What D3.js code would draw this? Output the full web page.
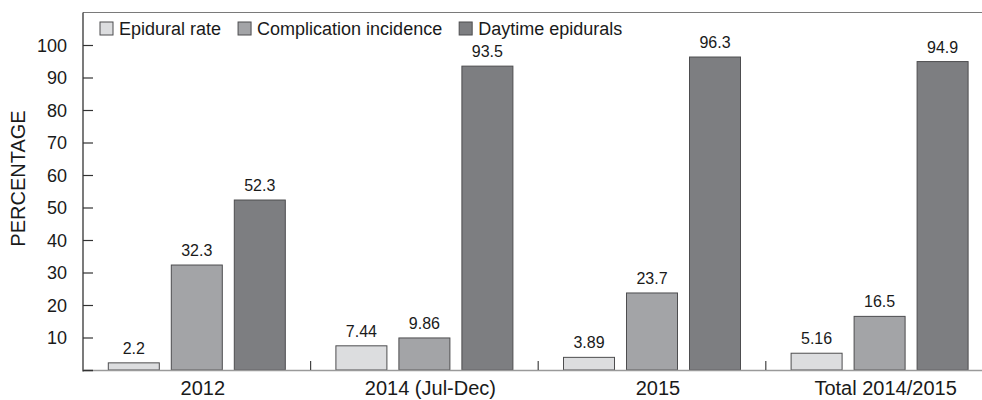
<!DOCTYPE html>
<html lang="en">

<head>
  <meta charset="UTF-8">
  <title>Epidural chart</title>
  <style>
    body {
      margin: 0;
      background: #fff;
      font-family: "Liberation Sans", Arial, sans-serif;
    }

    svg {
      display: block;
    }

    .bar {
      stroke: #4d4d4f;
      stroke-width: 1;
    }

    .val {
      font-size: 16px;
      fill: #1a1a1a;
      text-anchor: middle;
    }
  </style>
</head>

<body>
  <div id="chart"></div>

  <script src="https://d3js.org/d3.v7.min.js"></script>

  <script>
    const categories = ['2012', '2014 (Jul-Dec)', '2015', 'Total 2014/2015'];
    const seriesNames = ['Epidural rate', 'Complication incidence', 'Daytime epidurals'];
    const epiduralRate = [2.2, 7.44, 3.89, 5.16];
    const complication = [32.3, 9.86, 23.7, 16.5];
    const daytime = [52.3, 93.5, 96.3, 94.9];
    const valueLabels = [
      ['2.2', '7.44', '3.89', '5.16'],
      ['32.3', '9.86', '23.7', '16.5'],
      ['52.3', '93.5', '96.3', '94.9']
    ];
    const yTicks = [10, 20, 30, 40, 50, 60, 70, 80, 90, 100];
    const colors = ['#dcdddf', '#a3a4a7', '#7d7e81'];

    (function () {
      const width = 982;
      const height = 400;
      const left = 83;
      const top = 12.5;
      const bottom = 370;
      const groupW = 227.6;

      const series = [epiduralRate, complication, daytime];

      const svg = d3.select('#chart')
        .append('svg')
        .attr('width', width)
        .attr('height', height);

      const x = d3.scaleBand()
        .domain(categories)
        .range([left, left + groupW * categories.length])
        .padding(0);

      const xs = d3.scaleBand()
        .domain(d3.range(seriesNames.length))
        .range([25.3, 25.3 + 177])
        .paddingInner(12 / 63)
        .paddingOuter(0);

      const y = d3.scaleLinear()
        .domain([0, 110])
        .range([bottom, top]);

      // frame top line
      svg.append('line')
        .attr('x1', left).attr('x2', width)
        .attr('y1', top).attr('y2', top)
        .attr('stroke', '#7a7a7a').attr('stroke-width', 1.2);

      // y axis (ticks pointing inward)
      const yAxis = d3.axisLeft(y)
        .tickValues(yTicks)
        .tickSize(-10)
        .tickPadding(16)
        .tickFormat(d3.format('d'));

      const gy = svg.append('g')
        .attr('transform', `translate(${left},0)`)
        .call(yAxis);
      gy.select('.domain').remove();
      gy.selectAll('.tick line').attr('stroke', '#333').attr('stroke-width', 1.2);
      gy.selectAll('.tick text')
        .attr('font-size', 18)
        .attr('font-family', '"Liberation Sans", Arial, sans-serif')
        .attr('fill', '#1a1a1a')
        .attr('dy', '0.34em');

      svg.append('line')
        .attr('x1', left).attr('x2', left)
        .attr('y1', top).attr('y2', bottom + 1.5)
        .attr('stroke', '#333').attr('stroke-width', 1.3);

      // bars
      const groups = svg.append('g')
        .selectAll('g')
        .data(categories)
        .join('g')
        .attr('transform', d => `translate(${x(d)},0)`);

      groups.selectAll('rect')
        .data((c, ci) => series.map((s, si) => ({ si, v: s[ci] })))
        .join('rect')
        .attr('class', 'bar')
        .attr('x', d => xs(d.si))
        .attr('width', xs.bandwidth())
        .attr('y', d => y(d.v))
        .attr('height', d => bottom - y(d.v))
        .attr('fill', d => colors[d.si]);

      groups.selectAll('text.val')
        .data((c, ci) => series.map((s, si) => ({ si, v: s[ci], t: valueLabels[si][ci] })))
        .join('text')
        .attr('class', 'val')
        .attr('x', d => xs(d.si) + xs.bandwidth() / 2)
        .attr('y', d => y(d.v) - 9)
        .text(d => d.t);

      // x axis baseline
      svg.append('line')
        .attr('x1', left).attr('x2', width)
        .attr('y1', bottom + 0.5).attr('y2', bottom + 0.5)
        .attr('stroke', '#9a9a9a').attr('stroke-width', 1.5);
      svg.append('line')
        .attr('x1', left).attr('x2', left + 10)
        .attr('y1', bottom + 0.5).attr('y2', bottom + 0.5)
        .attr('stroke', '#333').attr('stroke-width', 1.5);

      // category separator ticks
      svg.append('g')
        .selectAll('line')
        .data(categories.slice(1))
        .join('line')
        .attr('x1', d => x(d)).attr('x2', d => x(d))
        .attr('y1', bottom - 9).attr('y2', bottom)
        .attr('stroke', '#444').attr('stroke-width', 1.2);

      // category labels
      svg.append('g')
        .selectAll('text')
        .data(categories)
        .join('text')
        .attr('x', d => x(d) + x.bandwidth() / 2 + 6)
        .attr('y', 395)
        .attr('text-anchor', 'middle')
        .attr('font-size', 20)
        .attr('fill', '#1a1a1a')
        .text(d => d);

      // y title
      svg.append('text')
        .attr('transform', 'translate(25,178.5) rotate(-90)')
        .attr('text-anchor', 'middle')
        .attr('font-size', 20)
        .attr('fill', '#1a1a1a')
        .text('PERCENTAGE');

      // legend
      const legend = svg.append('g');
      let lx = 100;
      seriesNames.forEach((name, i) => {
        legend.append('rect')
          .attr('x', lx).attr('y', 22)
          .attr('width', 13).attr('height', 13)
          .attr('fill', colors[i])
          .attr('stroke', '#4d4d4f');
        const t = legend.append('text')
          .attr('x', lx + 19)
          .attr('y', 35)
          .attr('font-size', 18)
          .attr('fill', '#1a1a1a')
          .text(name);
        lx += 19 + t.node().getComputedTextLength() + 17;
      });
    })();
  </script>
</body>

</html>
